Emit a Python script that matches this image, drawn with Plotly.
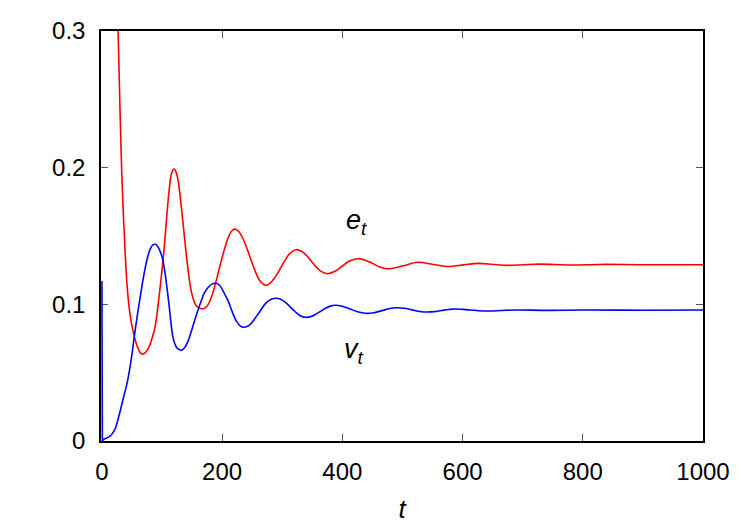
import plotly.graph_objects as go

# e_t (red), values
e_t = [22, 25, 27, 30, 33, 36, 39, 42, 45, 48, 52, 56, 60, 64, 68, 72, 76, 80, 84, 88,
       92, 96, 100, 104, 108, 112, 116, 120, 124, 128, 132, 136, 140, 144, 148, 152, 156,
       160, 164, 169, 175, 182, 189, 196, 203, 210, 216, 221, 228, 235, 242, 249, 256,
       263, 272, 280, 288, 296, 304, 312, 323, 332, 340, 348, 356, 364, 375, 387, 399,
       412, 425, 437, 450, 462, 475, 500, 525, 551, 577, 602, 627, 652, 678, 703, 728,
       780, 830, 900, 1000]
e_y = [0.40, 0.34, 0.300, 0.245, 0.196, 0.163, 0.135, 0.113, 0.099, 0.089, 0.080, 0.073,
       0.068, 0.0645, 0.0636, 0.0645, 0.0668, 0.0705, 0.076, 0.0825, 0.094, 0.109, 0.125,
       0.143, 0.165, 0.184, 0.196, 0.199, 0.196, 0.187, 0.172, 0.155, 0.138, 0.123, 0.111,
       0.104, 0.0995, 0.0978, 0.0970, 0.0968, 0.0987, 0.105, 0.1153, 0.1275, 0.139,
       0.1487, 0.1537, 0.155, 0.1531, 0.1478, 0.1401, 0.1314, 0.1232, 0.117, 0.114,
       0.1155, 0.1197, 0.1256, 0.1318, 0.1369, 0.140, 0.1388, 0.1359, 0.1318, 0.1276,
       0.1243, 0.1224, 0.124, 0.1277, 0.1317, 0.1334, 0.1325, 0.130, 0.1273, 0.126, 0.128,
       0.1308, 0.1292, 0.1277, 0.1289, 0.1300, 0.1291, 0.1285, 0.129, 0.1294, 0.1288,
       0.1292, 0.129, 0.129]

# v_t (blue)
v_t = [0, 0.8, 3, 8, 14, 18, 22.5, 26, 30.8, 36, 42, 46, 50, 54, 58.6, 64, 68, 72, 76, 80,
       84, 89, 94, 100, 104, 108, 112, 115, 118, 121, 125, 129, 133, 138, 144, 150, 157,
       164, 170.5, 177, 183, 189.7, 196, 203, 210, 217, 224, 230, 236, 245, 254, 263, 272,
       281, 290, 298, 306, 314, 322, 330, 339, 348, 356, 364, 372, 380, 388, 400, 412,
       424, 433, 441, 453, 466, 479, 491, 503, 516, 529, 541, 553, 565, 577, 588, 601,
       614, 627, 641, 665, 690, 740, 800, 900, 1000]
v_y = [0.117, 0.0, 0.0012, 0.0022, 0.0037, 0.0058, 0.0093, 0.0145, 0.0227, 0.032, 0.0425,
       0.052, 0.0635, 0.077, 0.091, 0.106, 0.117, 0.1265, 0.1345, 0.140, 0.1432, 0.1439,
       0.1415, 0.1349, 0.126, 0.113, 0.0985, 0.086, 0.0765, 0.0715, 0.068, 0.0668, 0.0666,
       0.0685, 0.0739, 0.082, 0.092, 0.101, 0.1083, 0.1125, 0.1148, 0.1154, 0.1138,
       0.1086, 0.1025, 0.0943, 0.0875, 0.0843, 0.0832, 0.0846, 0.0893, 0.095, 0.1005,
       0.1035, 0.1044, 0.1036, 0.1012, 0.0978, 0.0944, 0.0917, 0.0905, 0.0911, 0.0928,
       0.0949, 0.0971, 0.0987, 0.0993, 0.0986, 0.0968, 0.0948, 0.0938, 0.0934, 0.0939,
       0.0954, 0.0969, 0.0975, 0.0971, 0.09595, 0.0948, 0.0944, 0.0947, 0.0955, 0.0962,
       0.0966, 0.0963, 0.0958, 0.0953, 0.0951, 0.0955, 0.0959, 0.0956, 0.0958, 0.0957,
       0.0958]

x_ticks = [0, 200, 400, 600, 800, 1000]
y_ticks = [0, 0.1, 0.2, 0.3]
y_ticklabels = ["0", "0.1", "0.2", "0.3"]

FONT = "Liberation Sans, Arial, sans-serif"

fig = go.Figure()
fig.add_trace(go.Scatter(x=e_t, y=e_y, mode="lines",
                         line=dict(color="#ff0000", width=1.6, shape="spline", smoothing=1.0),
                         showlegend=False))
fig.add_trace(go.Scatter(x=v_t[:2], y=v_y[:2], mode="lines",
                         line=dict(color="#0000ff", width=1.6), showlegend=False))
fig.add_trace(go.Scatter(x=v_t[1:], y=v_y[1:], mode="lines",
                         line=dict(color="#0000ff", width=1.6, shape="spline", smoothing=1.0),
                         showlegend=False))

fig.add_annotation(x=424, y=0.160, text="<i>e<sub>t</sub></i>", showarrow=False,
                   font=dict(family=FONT, size=27, color="black"))
fig.add_annotation(x=419, y=0.066, text="<i>v<sub>t</sub></i>", showarrow=False,
                   font=dict(family=FONT, size=27, color="black"))

axis_common = dict(showgrid=False, zeroline=False, showline=True, linecolor="black",
                   linewidth=1.5, mirror="ticks", ticks="inside", ticklen=7,
                   tickcolor="#555", tickwidth=1, layer="below traces", automargin=False,
                   tickfont=dict(family=FONT, size=24, color="black"))

fig.update_xaxes(range=[-1.5, 1000], tickvals=x_ticks, ticktext=[str(v) for v in x_ticks],
                 ticklabelstandoff=8,
                 title=dict(text="<i>t</i>", font=dict(family=FONT, size=26, color="black"),
                            standoff=16),
                 **axis_common)
fig.update_yaxes(range=[0, 0.3], tickvals=y_ticks, ticktext=y_ticklabels,
                 ticklabelstandoff=9, **axis_common)

fig.update_layout(width=750, height=525, margin=dict(l=101, r=47, t=31, b=84),
                  paper_bgcolor="white", plot_bgcolor="white",
                  font=dict(family=FONT, color="black"))

fig.write_html("out.html")
